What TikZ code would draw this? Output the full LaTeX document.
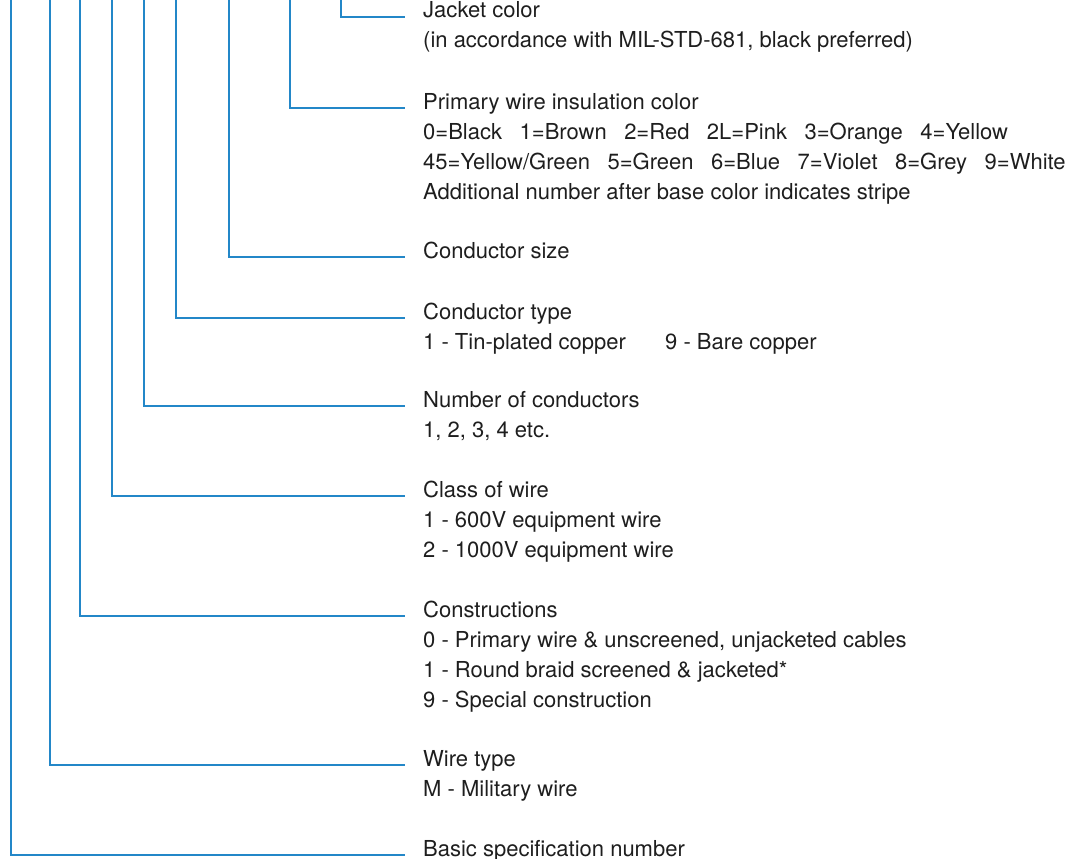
\documentclass[tikz,border=0pt]{standalone}
\usepackage{fontspec}
\setmainfont{TeX Gyre Heros}
\definecolor{lineblue}{RGB}{35,135,200}
\definecolor{txt}{RGB}{30,30,30}
\newcommand{\gap}{\hspace{17.5pt}}
\begin{document}
\begin{tikzpicture}[x=1pt,y=-1pt,
  conn/.style={draw=lineblue,line width=1.2pt},
  lbl/.style={anchor=base west,inner sep=0pt,text=txt,font=\fontsize{22}{30}\selectfont}]
\useasboundingbox (0,0) rectangle (1079,859);
% label nodes
\node[lbl] (jk) at (423,18) {Jacket color};
\node[lbl] (jk1) at (423,48) {(in accordance with MIL-STD-681, black preferred)};
\node[lbl] (pw) at (423,109) {Primary wire insulation color};
\node[lbl] (pw1) at (423,139) {0=Black\gap1=Brown\gap2=Red\gap2L=Pink\gap3=Orange\gap4=Yellow};
\node[lbl] (pw2) at (423,169) {45=Yellow/Green\gap5=Green\gap6=Blue\gap7=Violet\gap8=Grey\gap9=White};
\node[lbl] (pw3) at (423,199) {Additional number after base color indicates stripe};
\node[lbl] (cs) at (423,258) {Conductor size};
\node[lbl] (ct) at (423,319) {Conductor type};
\node[lbl] (ct1) at (423,349) {1 - Tin-plated copper};
\node[lbl] (ct2) at (665,349) {9 - Bare copper};
\node[lbl] (nc) at (423,407) {Number of conductors};
\node[lbl] (nc1) at (423,437) {1, 2, 3, 4 etc.};
\node[lbl] (cw) at (423,497) {Class of wire};
\node[lbl] (cw1) at (423,527) {1 - 600V equipment wire};
\node[lbl] (cw2) at (423,557) {2 - 1000V equipment wire};
\node[lbl] (co) at (423,617) {Constructions};
\node[lbl] (co1) at (423,647) {0 - Primary wire \& unscreened, unjacketed cables};
\node[lbl] (co2) at (423,677) {1 - Round braid screened \& jacketed*};
\node[lbl] (co3) at (423,707) {9 - Special construction};
\node[lbl] (wt) at (423,766) {Wire type};
\node[lbl] (wt1) at (423,796) {M - Military wire};
\node[lbl] (bs) at (423,856) {Basic specification number};
% connector tops
\coordinate (t1) at (341,0);
\coordinate (t2) at (290,0);
\coordinate (t3) at (229,0);
\coordinate (t4) at (176,0);
\coordinate (t5) at (144,0);
\coordinate (t6) at (112,0);
\coordinate (t7) at (80,0);
\coordinate (t8) at (50,0);
\coordinate (t9) at (11,0);
% connector ends
\coordinate (e1) at (405,17);
\coordinate (e2) at (405,108);
\coordinate (e3) at (405,257);
\coordinate (e4) at (405,318);
\coordinate (e5) at (405,406);
\coordinate (e6) at (405,496);
\coordinate (e7) at (405,616);
\coordinate (e8) at (405,765);
\coordinate (e9) at (405,855);
\foreach \i in {1,...,9}{\draw[conn] (t\i) |- (e\i);}
\end{tikzpicture}
\end{document}
